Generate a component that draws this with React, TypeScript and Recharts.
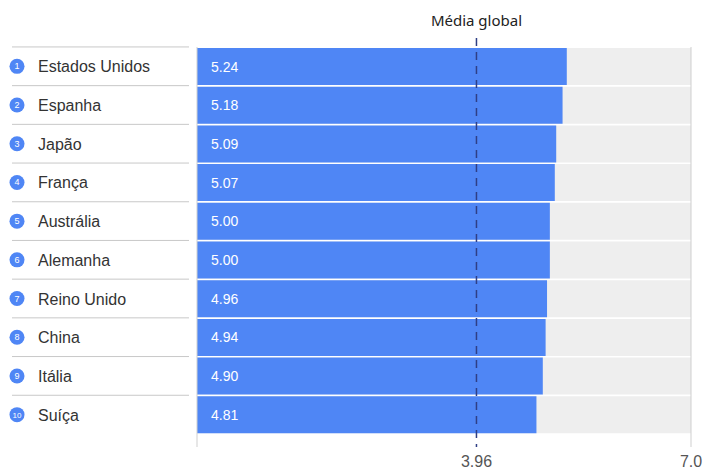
import { BarChart, Bar, XAxis, YAxis, ReferenceLine, LabelList } from "recharts";

const countries = [
  "Estados Unidos",
  "Espanha",
  "Japão",
  "França",
  "Austrália",
  "Alemanha",
  "Reino Unido",
  "China",
  "Itália",
  "Suíça",
];
const scores = [5.24, 5.18, 5.09, 5.07, 5.0, 5.0, 4.96, 4.94, 4.9, 4.81];
const globalAverage = 3.96;
const axisTicks = [3.96, 7];
const axisMax = 7;

const data = countries.map((name, i) => ({ name, rank: i + 1, value: scores[i] }));

const BLUE = "#4f86f5";
const SANS = "'Liberation Sans', Arial, sans-serif";

const CountryTick = ({ x, y, payload, index }: any) => {
  const rowTop = y - 19.4;
  return (
    <g>
      <line x1={12} x2={x} y1={rowTop} y2={rowTop} stroke="#c8c8c8" strokeWidth={1} />
      <circle cx={17} cy={y} r={7.5} fill={BLUE} />
      <text x={17} y={y + 3} textAnchor="middle" fill="#fff" fontSize={index === 9 ? 8 : 9} fontFamily={SANS}>
        {index + 1}
      </text>
      <text x={38} y={y + 6} fill="#333" fontSize={16} fontFamily={SANS}>
        {payload.value}
      </text>
    </g>
  );
};

const ValueTick = ({ x, y, payload }: any) => (
  <text x={x} y={y + 31} textAnchor="middle" fill="#555" fontSize={16} fontFamily={SANS}>
    {payload.value === 7 ? "7.0" : payload.value.toFixed(2)}
  </text>
);

const ValueLabel = ({ x, y, height, value }: any) => (
  <text x={x + 14} y={y + height / 2 + 5} fill="#fff" fontSize={14} fontFamily={SANS}>
    {Number(value).toFixed(2)}
  </text>
);

const EdgeLine = (p: any) => {
  const top = Math.min(p.y1, p.y2);
  const bottom = Math.max(p.y1, p.y2);
  return <line x1={p.x1} x2={p.x2} y1={top} y2={bottom + 13} stroke="#cfcfcf" strokeWidth={1} />;
};

const AverageLine = (p: any) => {
  const top = Math.min(p.y1, p.y2);
  const bottom = Math.max(p.y1, p.y2);
  return (
    <g>
      <line x1={p.x1} x2={p.x2} y1={top - 9} y2={bottom + 13} stroke="#2f3f85" strokeWidth={1.5} strokeDasharray="8 6" />
      <text x={p.x1} y={top - 21} textAnchor="middle" fill="#222" fontSize={15} fontFamily="'Noto Sans', sans-serif">
        Média global
      </text>
    </g>
  );
};

export default function App() {
  return (
    <div style={{ position: "absolute", left: 0, top: 0, width: 704, height: 471, background: "#fff" }}>
      <BarChart
        width={704}
        height={471}
        data={data}
        layout="vertical"
        margin={{ top: 47, right: 13, bottom: 0, left: 12 }}
        barCategoryGap={1}
      >
        <XAxis
          type="number"
          domain={[0, axisMax]}
          ticks={axisTicks}
          axisLine={false}
          tickLine={false}
          tickSize={0}
          height={37}
          tick={<ValueTick />}
        />
        <YAxis
          type="category"
          dataKey="name"
          width={185}
          axisLine={false}
          tickLine={false}
          tick={<CountryTick />}
        />
        <Bar dataKey="value" fill={BLUE} background={{ fill: "#eeeeee" }} isAnimationActive={false}>
          <LabelList dataKey="value" content={<ValueLabel />} />
        </Bar>
        <ReferenceLine x={0} shape={<EdgeLine />} />
        <ReferenceLine x={axisMax} shape={<EdgeLine />} />
        <ReferenceLine x={globalAverage} shape={<AverageLine />} />
      </BarChart>
    </div>
  );
}
